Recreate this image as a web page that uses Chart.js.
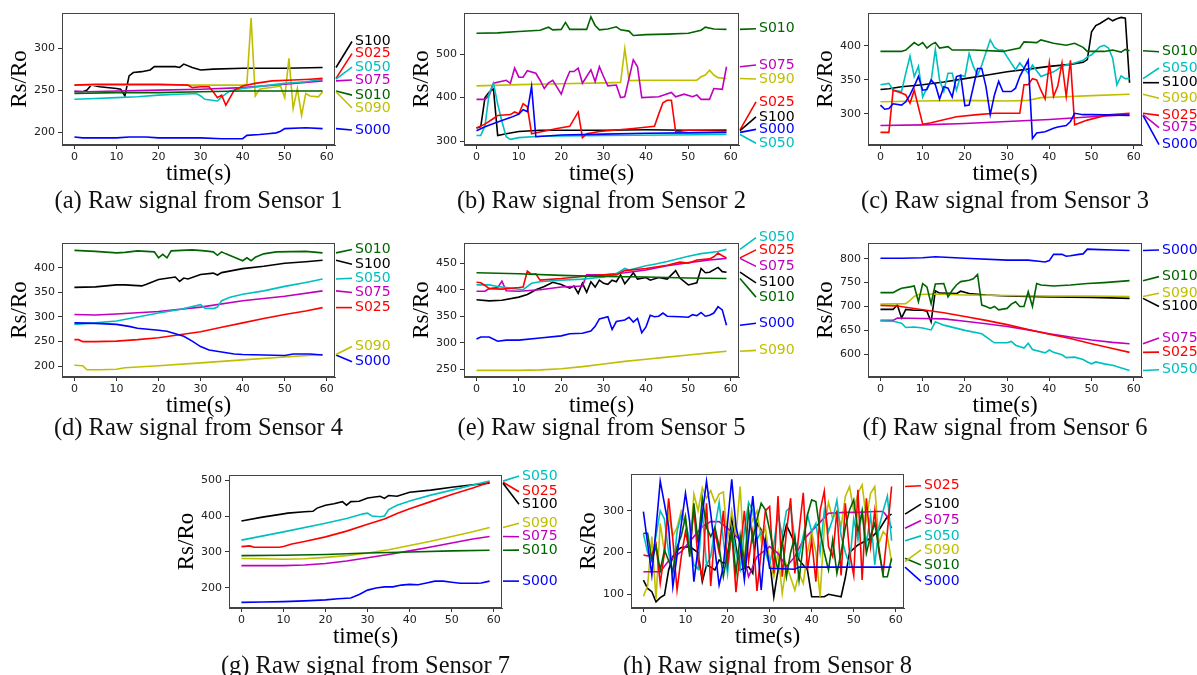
<!DOCTYPE html>
<html>
<head>
<meta charset="utf-8">
<script src="https://cdn.jsdelivr.net/npm/chart.js@4.4.1/dist/chart.umd.min.js"></script>
<style>
body{margin:0;width:1197px;height:675px;overflow:hidden;background:#fff;position:relative}
canvas{position:absolute}
.cap{position:absolute;width:420px;text-align:center;white-space:nowrap;
font-family:"Liberation Serif","Times New Roman",serif;font-size:24.5px;line-height:24.5px;color:#111}
</style>
</head>
<body>
<script>
// ---------- data ----------
const seriesNames = ["S000","S010","S025","S050","S075","S090","S100"]
const seriesColors = ["#0000ff","#006400","#ff0000","#00bfbf","#bf00bf","#bfbf00","#000000"]
const timeTicks = [0,10,20,30,40,50,60]

// y tick labels per sensor
const yTicks1 = [200,250,300]
const yTicks2 = [300,400,500]
const yTicks3 = [300,350,400]
const yTicks4 = [200,250,300,350,400]
const yTicks5 = [250,300,350,400,450]
const yTicks6 = [600,650,700,750,800]
const yTicks7 = [200,300,400,500]
const yTicks8 = [100,200,300]

// each series: [time(s), Rs/Ro]
const sensor1 = {
S000:[[0,194],[2,193],[5,193],[10,193],[13,194],[17,194],[20,193],[25,193],[30,193],[35,192],[40,192],[41,196],[44,197],[46,198],[48,199],[49,201],[50,204],[55,205],[59,204]],
S010:[[0,246],[10,247],[20,247],[30,248],[40,249],[50,249],[59,249]],
S025:[[0,256],[5,257],[10,257],[20,257],[27,256],[28,253],[30,254],[32,254],[33,248],[34,241],[35,244],[36,232],[38,250],[40,255],[43,258],[47,261],[52,262],[56,263],[59,264]],
S050:[[0,239],[5,240],[10,241],[15,242],[20,244],[25,245],[29,246],[30,243],[31,239],[34,237],[35,242],[37,249],[40,252],[45,255],[50,258],[55,260],[59,263]],
S075:[[0,249],[3,248],[10,249],[20,250],[30,251],[40,253],[50,257],[59,261]],
S090:[[0,256],[40,256],[41,257],[42,336],[43,243],[44,251],[45,252],[48,254],[49,255],[50,241],[51,288],[52,228],[53,252],[54,220],[55,246],[56,243],[58,242],[59,248]],
S100:[[0,248],[2,248],[3,250],[4,256],[6,254],[10,252],[11,251],[12,243],[13,267],[14,271],[16,272],[18,274],[19,278],[22,278],[24,278],[25,277],[26,281],[28,277],[30,274],[33,275],[40,276],[50,276],[59,277]]
}

const sensor2 = {
S000:[[0,324],[2,333],[5,344],[8,354],[10,362],[11,372],[12,368],[13,426],[14,310],[20,314],[30,316],[40,318],[50,319],[59,320]],
S010:[[0,548],[5,549],[10,552],[15,555],[17,562],[18,556],[20,557],[21,573],[22,557],[26,557],[27,586],[28,566],[29,556],[31,558],[33,563],[34,556],[36,553],[37,543],[40,545],[45,546],[50,548],[53,555],[54,562],[56,558],[59,557]],
S025:[[0,330],[2,339],[4,352],[5,359],[8,361],[9,367],[10,363],[11,386],[12,379],[13,317],[15,321],[19,329],[22,334],[24,367],[25,308],[26,317],[29,322],[37,329],[42,334],[43,362],[44,388],[45,394],[46,394],[47,321],[50,325],[59,326]],
S050:[[0,313],[1,313],[2,335],[3,410],[4,433],[5,385],[6,345],[7,310],[8,304],[10,308],[15,311],[30,313],[45,314],[59,315]],
S075:[[0,396],[2,396],[3,405],[4,433],[7,440],[8,433],[9,468],[10,447],[11,447],[12,462],[14,456],[15,440],[16,421],[17,434],[18,440],[20,408],[21,437],[22,460],[23,460],[24,468],[25,433],[27,464],[28,437],[29,471],[30,448],[31,427],[33,429],[34,400],[35,402],[37,487],[38,471],[39,400],[43,402],[46,412],[47,402],[49,408],[51,402],[52,406],[53,396],[55,396],[56,421],[58,419],[59,471]],
S090:[[0,427],[10,430],[20,432],[30,434],[34,435],[35,513],[36,439],[40,440],[45,440],[52,440],[53,448],[54,452],[55,463],[56,452],[57,446],[59,444]],
S100:[[0,330],[1,333],[2,400],[3,413],[4,420],[5,313],[7,317],[10,322],[15,325],[20,325],[30,325],[40,326],[50,325],[59,324]]
}

const sensor3 = {
S000:[[0,313],[1,307],[2,308],[3,315],[5,313],[6,318],[7,328],[8,341],[9,355],[10,335],[11,336],[12,350],[13,343],[14,322],[15,340],[16,338],[17,325],[18,355],[19,357],[20,312],[21,313],[22,340],[23,367],[24,367],[25,340],[26,299],[27,328],[28,348],[29,333],[31,333],[32,338],[33,355],[35,379],[36,264],[37,272],[39,274],[41,279],[42,281],[44,283],[45,289],[46,301],[48,299],[50,299],[59,298]],
S010:[[0,392],[5,392],[6,394],[8,405],[9,401],[10,405],[11,397],[12,402],[13,405],[14,397],[16,399],[17,394],[22,394],[29,392],[33,397],[34,406],[37,405],[38,409],[41,404],[44,401],[46,404],[48,398],[49,392],[53,392],[55,394],[57,391],[58,395],[59,393]],
S025:[[0,273],[2,273],[3,335],[5,331],[6,328],[7,316],[8,335],[10,285],[12,287],[18,296],[23,299],[27,301],[33,301],[34,343],[35,343],[36,352],[37,350],[38,335],[39,322],[40,375],[41,326],[42,341],[43,375],[44,326],[45,379],[46,284],[49,291],[54,299],[59,301]],
S050:[[0,343],[2,345],[3,335],[5,333],[6,360],[7,385],[8,355],[9,370],[10,325],[11,338],[12,348],[13,395],[14,350],[15,333],[16,360],[17,360],[18,335],[19,357],[20,355],[21,389],[22,370],[23,357],[24,372],[26,409],[27,398],[28,394],[29,394],[30,384],[32,365],[33,375],[35,360],[36,372],[38,355],[40,360],[41,362],[43,370],[44,372],[46,375],[48,379],[49,384],[50,387],[52,399],[53,401],[54,397],[55,382],[56,343],[57,356],[58,352],[59,352]],
S075:[[0,283],[10,284],[20,286],[30,289],[40,292],[50,296],[59,299]],
S090:[[0,318],[10,319],[20,320],[30,319],[35,320],[38,324],[42,325],[50,327],[59,329]],
S100:[[0,336],[2,337],[5,340],[10,343],[15,347],[20,352],[25,357],[30,362],[35,366],[40,370],[45,373],[48,376],[49,380],[50,421],[51,430],[52,433],[54,441],[55,437],[56,440],[57,442],[58,441],[59,346]]
}

const sensor4 = {
S000:[[0,288],[5,287],[10,285],[13,281],[15,277],[20,273],[22,271],[24,266],[26,261],[28,251],[30,240],[32,233],[35,229],[38,225],[40,224],[45,223],[50,222],[52,225],[56,225],[59,223]],
S010:[[0,435],[5,433],[10,430],[12,431],[15,434],[19,432],[20,420],[21,427],[22,420],[23,434],[28,436],[31,434],[33,432],[34,425],[35,432],[36,428],[38,421],[40,414],[41,420],[42,414],[43,421],[45,428],[48,432],[55,433],[59,430]],
S025:[[0,254],[1,254],[2,250],[5,250],[10,251],[15,254],[20,258],[25,264],[30,270],[35,279],[40,288],[45,297],[50,305],[55,312],[59,319]],
S050:[[0,285],[5,288],[10,292],[15,300],[20,308],[25,315],[30,325],[31,318],[33,317],[34,320],[35,333],[37,340],[40,346],[45,353],[50,362],[55,370],[59,377]],
S075:[[0,305],[5,304],[10,306],[20,311],[30,320],[40,333],[50,342],[59,353]],
S090:[[0,202],[2,201],[3,193],[6,193],[10,194],[12,197],[20,201],[30,207],[40,213],[50,219],[59,224]],
S100:[[0,360],[5,361],[10,365],[12,365],[16,363],[17,366],[20,376],[24,381],[25,372],[26,379],[27,377],[30,386],[33,389],[34,385],[35,390],[40,398],[45,403],[50,409],[55,412],[59,415]]
}

const sensor5 = {
S000:[[0,307],[1,311],[3,311],[5,303],[7,305],[10,305],[15,309],[20,313],[22,317],[25,318],[27,322],[28,331],[29,345],[31,349],[32,325],[33,340],[35,343],[36,348],[37,339],[38,346],[39,319],[40,330],[41,352],[42,349],[43,350],[44,356],[45,350],[48,349],[50,348],[51,353],[52,351],[53,357],[54,350],[55,352],[56,356],[57,368],[58,362],[59,333]],
S010:[[0,432],[10,430],[20,427],[30,425],[40,424],[50,422],[59,421]],
S025:[[0,414],[1,413],[2,408],[3,402],[6,401],[10,404],[11,405],[12,435],[13,429],[14,430],[15,418],[20,421],[25,425],[30,428],[33,428],[35,436],[40,440],[45,446],[48,452],[50,450],[52,456],[55,458],[56,462],[57,469],[58,464],[59,460]],
S050:[[0,409],[3,409],[5,406],[8,403],[11,400],[13,412],[15,415],[20,418],[25,420],[30,424],[33,430],[35,440],[36,437],[40,445],[42,448],[45,453],[50,463],[53,468],[57,472],[59,476]],
S075:[[0,397],[2,397],[3,402],[5,404],[6,416],[7,398],[10,397],[15,400],[20,405],[25,407],[26,428],[30,428],[35,432],[40,437],[45,445],[50,451],[55,456],[59,459]],
S090:[[0,248],[10,248],[15,249],[20,251],[25,255],[30,260],[35,265],[40,269],[45,273],[50,277],[55,281],[59,284]],
S100:[[0,381],[3,379],[6,380],[10,386],[12,391],[14,400],[16,406],[18,414],[20,410],[22,403],[23,407],[24,393],[25,412],[26,395],[27,415],[28,405],[29,418],[30,412],[31,410],[32,418],[33,415],[34,428],[35,411],[36,421],[37,432],[38,420],[40,423],[41,418],[43,423],[45,420],[47,436],[48,422],[50,409],[52,413],[53,440],[54,432],[55,433],[57,442],[58,434],[59,433]]
}

const sensor6 = {
S000:[[0,801],[5,801],[10,802],[13,804],[20,801],[30,797],[35,797],[38,794],[39,793],[40,796],[41,809],[43,809],[44,805],[45,806],[47,809],[48,810],[49,820],[52,819],[55,818],[59,817]],
S010:[[0,729],[3,729],[4,734],[5,738],[7,741],[8,743],[9,710],[10,748],[11,741],[12,706],[13,747],[15,748],[16,720],[17,734],[18,745],[19,752],[21,755],[22,758],[23,767],[24,703],[25,700],[26,696],[27,700],[28,693],[30,696],[31,705],[32,710],[33,700],[34,700],[35,731],[36,700],[37,748],[38,745],[41,743],[45,745],[49,748],[53,750],[59,754]],
S025:[[0,702],[4,701],[10,693],[15,687],[20,679],[25,671],[30,662],[35,652],[40,642],[45,633],[50,622],[55,612],[59,604]],
S050:[[0,670],[3,669],[5,665],[6,656],[8,657],[10,655],[12,651],[13,668],[15,661],[20,650],[24,643],[26,630],[27,624],[30,624],[31,627],[32,619],[34,613],[35,623],[36,610],[39,603],[40,609],[41,604],[43,599],[44,593],[46,594],[48,589],[49,584],[50,580],[51,584],[53,580],[55,577],[59,566]],
S075:[[0,671],[3,671],[4,676],[10,675],[15,674],[20,669],[25,664],[30,658],[35,651],[40,643],[45,636],[50,630],[55,625],[59,622]],
S090:[[0,705],[6,706],[7,713],[8,721],[9,725],[13,726],[20,724],[30,723],[40,722],[50,722],[59,721]],
S100:[[0,694],[3,694],[4,703],[5,676],[6,694],[8,692],[10,692],[11,690],[12,668],[13,733],[14,728],[18,727],[19,732],[21,727],[25,724],[30,722],[40,720],[50,719],[59,717]]
}

const sensor7 = {
S000:[[0,160],[5,161],[10,162],[15,164],[20,167],[23,170],[26,172],[28,182],[30,194],[32,200],[34,203],[36,203],[38,208],[40,210],[42,209],[44,214],[46,219],[48,219],[50,216],[52,213],[56,213],[57,214],[59,219]],
S010:[[0,290],[10,291],[20,293],[30,297],[40,300],[50,303],[59,305]],
S025:[[0,315],[2,317],[3,313],[9,313],[10,315],[12,322],[15,329],[20,342],[25,358],[30,377],[34,392],[37,407],[40,420],[45,440],[50,460],[55,478],[59,494]],
S050:[[0,333],[10,356],[20,380],[25,393],[29,406],[30,408],[31,400],[33,398],[34,400],[35,418],[37,430],[40,442],[45,458],[50,472],[55,486],[59,497]],
S075:[[0,262],[10,262],[15,264],[20,268],[25,275],[30,284],[35,293],[40,303],[45,314],[50,325],[55,336],[59,343]],
S090:[[0,282],[5,281],[10,280],[15,281],[20,285],[25,290],[30,297],[35,306],[40,318],[45,330],[50,343],[55,356],[59,368]],
S100:[[0,386],[5,397],[10,406],[11,408],[15,412],[17,413],[18,422],[20,430],[22,434],[24,440],[25,430],[26,440],[28,441],[30,450],[33,455],[34,449],[35,457],[37,455],[40,466],[45,472],[50,480],[55,487],[59,491]]
}

// sensor 8: plain lists are one reading per second from t=0
const sensor8 = {
S000:[[0,298],[2,146],[4,371],[6,262],[7,118],[10,342],[11,274],[12,130],[15,371],[16,294],[18,122],[19,166],[21,375],[22,262],[23,218],[24,134],[26,335],[27,230],[28,110],[29,230],[30,162],[36,160],[37,165],[59,165]],
S010:[246,246,182,214,158,206,180,154,214,240, 286,190,318,222,330,260,238,260,214,142, 200,250,150,240,160,300,230,280,318,302, 254,200,158,230,142,200,238,134,220,290, 326,322,250,200,158,230,150,200,260,302, 326,250,298,198,240,270,210,142,142,186],
S025:[194,192,194,220,126,200,330,230,110,190, 250,200,306,180,140,318,120,250,200,300, 170,250,105,200,300,180,250,108,200,300, 310,150,335,142,250,330,150,250,343,158, 230,130,300,347,214,190,300,145,318,200, 145,350,134,330,215,300,200,150,250,358],
S050:[245,200,180,240,300,280,200,150,250,290, 270,230,170,160,300,170,190,260,320,230, 150,260,200,160,250,320,300,230,250,200, 170,220,290,240,300,308,230,190,240,290, 250,270,200,300,250,280,325,240,200,170, 280,230,300,220,290,170,260,300,335,228],
S075:[[0,154],[4,154],[6,180],[9,202],[12,238],[14,262],[16,274],[18,274],[20,258],[23,230],[25,142],[27,190],[30,214],[32,198],[34,166],[36,190],[38,230],[41,262],[44,294],[48,296],[51,296],[55,298],[57,298],[58,285],[59,258]],
S090:[95,120,238,88,270,200,290,240,260,300, 280,200,340,300,355,330,348,320,340,345, 230,300,240,358,180,250,280,300,230,260, 180,142,200,102,170,140,110,150,126,200, 250,200,94,260,320,280,300,262,334,358, 300,342,362,280,342,358,222,250,238,178],
S100:[[0,134],[1,114],[2,106],[3,82],[4,92],[5,98],[6,158],[7,190],[8,205],[9,212],[11,214],[13,200],[14,130],[15,170],[16,165],[17,158],[18,182],[19,174],[20,180],[21,282],[22,214],[23,158],[25,166],[26,150],[27,270],[28,254],[30,182],[31,94],[32,158],[33,222],[34,266],[36,222],[37,182],[39,158],[40,94],[43,94],[44,100],[47,94],[48,140],[49,200],[51,218],[54,234],[56,254],[58,286],[59,292]]
}

// where each end label sits (Rs/Ro units)
const labelY1 = {S100:308,S025:293.5,S050:277.4,S075:262,S010:244,S090:228.6,S000:202.4}
const labelY2 = {S010:558.6,S075:475,S090:443,S025:390,S100:355.6,S000:327,S050:295}
const labelY3 = {S010:391.6,S050:367.6,S100:346,S090:323,S025:298,S075:280,S000:255}
const labelY4 = {S010:437,S100:407,S050:378.6,S075:349.5,S025:319,S090:240,S000:209}
const labelY5 = {S050:498,S025:475,S075:444,S100:413,S010:386,S000:336.7,S090:285.6}
const labelY6 = {S000:818,S010:762.5,S090:727.7,S100:700,S075:634,S025:604.6,S050:567.8}
const labelY7 = {S050:511,S025:467.6,S100:432.5,S090:379.7,S075:342.4,S010:305.3,S000:219}
const labelY8 = {S025:360,S100:316,S075:276.6,S050:239.8,S090:206,S010:170,S000:131}

// ---------- panels ----------
const panels = [
{data:sensor1,labels:labelY1,ticks:yTicks1,box:[62,335,13,145],yr:[184.5,342],caption:"(a) Raw signal from Sensor 1",capY:208},
{data:sensor2,labels:labelY2,ticks:yTicks2,box:[464,739,13,145],yr:[291,594.7],caption:"(b) Raw signal from Sensor 2",capY:208},
{data:sensor3,labels:labelY3,ticks:yTicks3,box:[868,1142,13,145],yr:[254.4,448.5],caption:"(c) Raw signal from Sensor 3",capY:208},
{data:sensor4,labels:labelY4,ticks:yTicks4,box:[62,335,243,377],yr:[178.3,450],caption:"(d) Raw signal from Sensor 4",capY:435},
{data:sensor5,labels:labelY5,ticks:yTicks5,box:[464,739,243,377],yr:[235.5,488],caption:"(e) Raw signal from Sensor 5",capY:435},
{data:sensor6,labels:labelY6,ticks:yTicks6,box:[868,1142,243,377],yr:[552.5,832.8],caption:"(f) Raw signal from Sensor 6",capY:435},
{data:sensor7,labels:labelY7,ticks:yTicks7,box:[229,502,475,608],yr:[144.3,514],caption:"(g) Raw signal from Sensor 7",capY:673},
{data:sensor8,labels:labelY8,ticks:yTicks8,box:[631,904,474,608],yr:[67,388],caption:"(h) Raw signal from Sensor 8",capY:673}
]

const sideLabels = {
id:'sideLabels',
afterDatasetsDraw(chart,args,opts){
const {ctx,chartArea,scales} = chart
ctx.save()
chart.data.datasets.forEach(ds=>{
const last = ds.data[ds.data.length-1]
const y0 = scales.y.getPixelForValue(last.y)
const y1 = scales.y.getPixelForValue(opts.pos[ds.label])
ctx.strokeStyle = ds.borderColor
ctx.lineWidth = 1.6
ctx.beginPath()
ctx.moveTo(chartArea.right+1,y0)
ctx.lineTo(chartArea.right+17,y1)
ctx.stroke()
ctx.fillStyle = ds.borderColor
ctx.font = '14px "DejaVu Sans"'
ctx.textBaseline = 'middle'
ctx.fillText(ds.label,chartArea.right+20,y1)
})
ctx.strokeStyle = '#444'
ctx.lineWidth = 1
ctx.strokeRect(chartArea.left+0.5,chartArea.top+0.5,chartArea.width-1,chartArea.height-1)
ctx.restore()
}
}

function toPoints(arr){
return arr.map((p,i)=>Array.isArray(p)?{x:p[0],y:p[1]}:{x:i,y:p})
}

function makePanel(p){
const [L,R,T,B] = p.box
const cv = document.createElement('canvas')
cv.width = (R-L)+124
cv.height = (B-T)+64
cv.style.left = (L-62)+'px'
cv.style.top = (T-16)+'px'
document.body.appendChild(cv)

const datasets = seriesNames.map((n,i)=>({
label:n,
data:toPoints(p.data[n]),
borderColor:seriesColors[i],
borderWidth:1.6,
pointRadius:0,
tension:0,
fill:false
}))

new Chart(cv,{
type:'line',
data:{datasets},
options:{
responsive:false,
animation:false,
events:[],
layout:{padding:{top:16,right:62,left:0,bottom:0}},
plugins:{legend:{display:false},tooltip:{enabled:false},sideLabels:{pos:p.labels}},
scales:{
x:{
type:'linear',min:-2.95,max:61.95,
afterBuildTicks(s){s.ticks = timeTicks.map(v=>({value:v}))},
afterFit(s){s.height = 48},
grid:{drawOnChartArea:false,drawTicks:true,tickLength:4,color:'#333'},
border:{display:true,color:'#444'},
ticks:{color:'#222',padding:2,maxRotation:0,font:{family:'DejaVu Sans',size:11}},
title:{display:true,text:'time(s)',color:'#000',padding:{top:0,bottom:5},font:{family:'Liberation Serif',size:23}}
},
y:{
type:'linear',min:p.yr[0],max:p.yr[1],
afterBuildTicks(s){s.ticks = p.ticks.map(v=>({value:v}))},
ticks:{color:'#222',padding:3,font:{family:'DejaVu Sans',size:11}},
afterFit(s){s.width = 62},
grid:{drawOnChartArea:false,drawTicks:true,tickLength:4,color:'#333'},
border:{display:true,color:'#444'},
title:{display:true,text:'Rs/Ro',color:'#000',padding:{top:6,bottom:0},font:{family:'Liberation Serif',size:23}}
}
}
},
plugins:[sideLabels]
})

const cap = document.createElement('div')
cap.className = 'cap'
cap.textContent = p.caption
cap.style.left = ((L+R)/2-210)+'px'
cap.style.top = (p.capY-20.5)+'px'
document.body.appendChild(cap)
}

panels.forEach(makePanel)
</script>
</body>
</html>
